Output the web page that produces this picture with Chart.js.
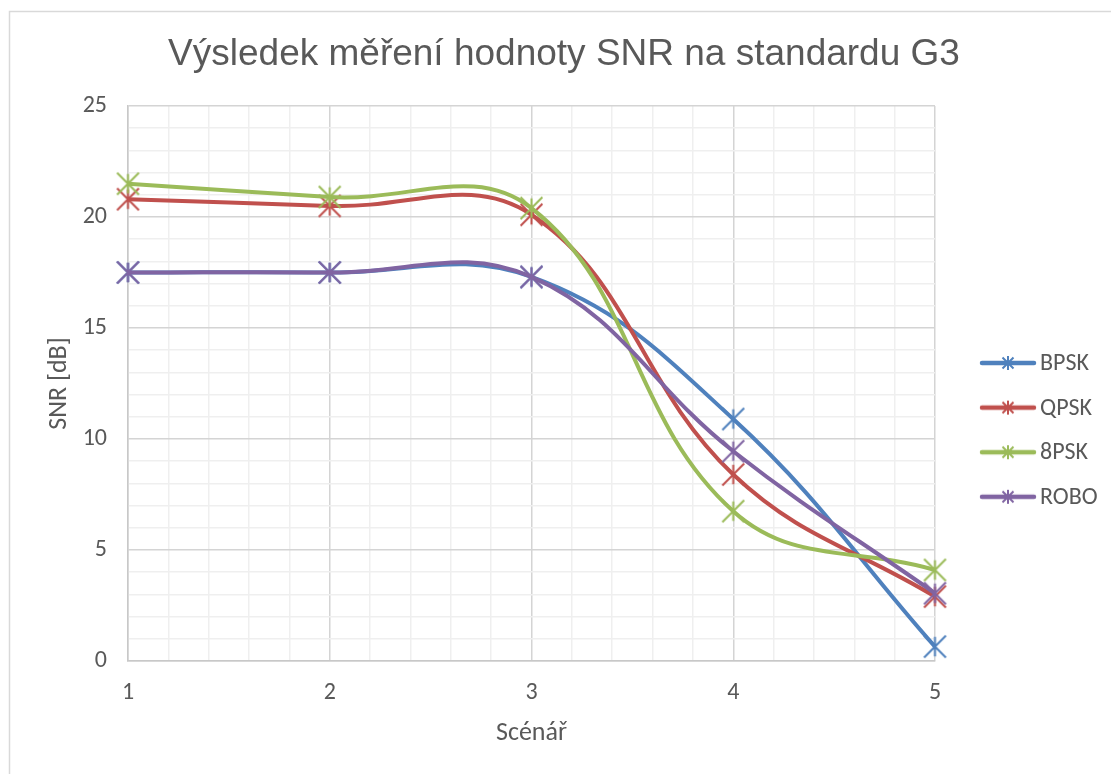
<!DOCTYPE html>
<html>
<head>
<meta charset="utf-8">
<script src="https://cdn.jsdelivr.net/npm/chart.js@4"></script>
<style>
  html, body { margin: 0; padding: 0; background: #ffffff; }
  #wrap { width: 1111px; height: 774px; position: relative; }
</style>
</head>
<body>
<div id="wrap"><canvas id="c" width="1111" height="774"></canvas></div>
<script>
// ---- data ----
const scenarios = [1, 2, 3, 4, 5];
const seriesNames = ['BPSK', 'QPSK', '8PSK', 'ROBO'];
const bpsk = [17.5, 17.5, 17.3, 10.9, 0.65];
const qpsk = [20.8, 20.5, 20.1, 8.4, 2.9];
const psk8 = [21.5, 20.9, 20.4, 6.75, 4.1];
const robo = [17.5, 17.5, 17.3, 9.45, 3.05];
const seriesColors = ['#4F81BD', '#C0504D', '#9BBB59', '#8064A2'];
const yMajorTicks = [0, 5, 10, 15, 20, 25];
const xMajorTicks = [1, 2, 3, 4, 5];

const titleText = 'Výsledek měření hodnoty SNR na standardu G3';
const xTitle = 'Scénář';
const yTitle = 'SNR [dB]';

const textColor = '#595959';
const calibriLike = 'Carlito, Lato, "Open Sans", sans-serif';

function starMarker(color, half, lw) {
  const s = Math.ceil(half * 2 + lw * 2);
  const cv = document.createElement('canvas');
  cv.width = s; cv.height = s;
  const g = cv.getContext('2d');
  const c = s / 2;
  g.strokeStyle = color; g.lineWidth = lw; g.lineCap = 'butt';
  const d = half * 0.95;
  g.beginPath();
  g.moveTo(c - d, c - d); g.lineTo(c + d, c + d);
  g.moveTo(c - d, c + d); g.lineTo(c + d, c - d);
  g.moveTo(c, c - half * 0.85); g.lineTo(c, c + half * 0.85);
  g.stroke();
  return cv;
}

function legendIcon(color) {
  const w = 58, h = 16;
  const cv = document.createElement('canvas');
  cv.width = w; cv.height = h;
  const g = cv.getContext('2d');
  g.strokeStyle = color; g.lineWidth = 4.5; g.lineCap = 'round';
  g.beginPath(); g.moveTo(3, h / 2); g.lineTo(w - 3, h / 2); g.stroke();
  g.lineWidth = 2; g.lineCap = 'butt';
  const c = w / 2, m = h / 2, d = 5.5;
  g.beginPath();
  g.moveTo(c - d, m - d); g.lineTo(c + d, m + d);
  g.moveTo(c - d, m + d); g.lineTo(c + d, m - d);
  g.moveTo(c, m - 7); g.lineTo(c, m + 7);
  g.stroke();
  return cv;
}

const seriesValues = [bpsk, qpsk, psk8, robo];
const datasets = seriesValues.map((vals, i) => ({
  label: seriesNames[i],
  data: scenarios.map((x, j) => ({ x: x, y: vals[j] })),
  borderColor: seriesColors[i],
  backgroundColor: seriesColors[i],
  borderWidth: 4,
  tension: 0.4,
  pointStyle: starMarker(seriesColors[i], 11.5, 2),
  pointRadius: 11,
  pointHoverRadius: 11,
  clip: false,
  order: seriesNames.length - i
}));

const isInt = v => Math.abs(v - Math.round(v)) < 1e-6;

const bgPlugin = {
  id: 'bg',
  beforeDraw(chart) {
    const ctx = chart.ctx;
    ctx.save();
    ctx.fillStyle = '#ffffff';
    ctx.fillRect(0, 0, chart.width, chart.height);
    ctx.strokeStyle = '#d9d9d9';
    ctx.lineWidth = 1.5;
    ctx.strokeRect(9.5, 11.5, chart.width + 20, chart.height + 20);
    ctx.restore();
  },
  afterDraw(chart) {
    const ctx = chart.ctx;
    ctx.save();
    ctx.font = '37px "Liberation Sans", Arial, sans-serif';
    ctx.fillStyle = textColor;
    ctx.textAlign = 'center';
    ctx.textBaseline = 'alphabetic';
    ctx.fillText(titleText, 564, 65);
    ctx.restore();
  }
};

const legendPlugin = {
  id: 'customLegend',
  afterDraw(chart) {
    const ctx = chart.ctx;
    ctx.save();
    ctx.font = '24px ' + calibriLike;
    ctx.fillStyle = textColor;
    ctx.textBaseline = 'middle';
    ctx.textAlign = 'left';
    chart.data.datasets.forEach((ds, i) => {
      const y = 363 + i * 44.6;
      const icon = legendIcon(ds.borderColor);
      ctx.drawImage(icon, 979, y - icon.height / 2);
      ctx.fillText(ds.label, 1040, y + 1);
    });
    ctx.restore();
  }
};

new Chart(document.getElementById('c'), {
  type: 'line',
  data: { datasets: datasets },
  plugins: [bgPlugin, legendPlugin],
  options: {
    responsive: false,
    animation: false,
    layout: { padding: { left: 0, right: 176, top: 106, bottom: 0 } },
    plugins: {
      legend: { display: false },
      tooltip: { enabled: false },
      title: { display: false }
    },
    scales: {
      x: {
        type: 'linear',
        min: 1, max: 5,
        afterFit(scale) { scale.height = 113; },
        ticks: {
          stepSize: 0.2,
          autoSkip: false,
          maxRotation: 0,
          padding: 18,
          color: textColor,
          font: { family: calibriLike, size: 24 },
          callback: v => (isInt(v) && xMajorTicks.includes(Math.round(v))) ? String(Math.round(v)) : ''
        },
        grid: {
          drawTicks: false,
          color: c => isInt(c.tick.value) ? '#d4d4d4' : '#efefef',
          lineWidth: 1.5
        },
        border: { color: '#c8c8c8', width: 1.5 },
        title: {
          display: true, text: xTitle, color: textColor,
          font: { family: calibriLike, size: 26, lineHeight: 1.2 },
          padding: { top: 0, bottom: 25 }
        }
      },
      y: {
        min: 0, max: 25,
        afterFit(scale) { scale.width = 128; },
        ticks: {
          stepSize: 1,
          autoSkip: false,
          padding: 21,
          color: textColor,
          font: { family: calibriLike, size: 24 },
          callback: v => yMajorTicks.includes(v) ? String(v) : ''
        },
        grid: {
          drawTicks: false,
          color: c => (c.tick.value % 5 === 0) ? '#d4d4d4' : '#efefef',
          lineWidth: 1.5
        },
        border: { color: '#c8c8c8', width: 1.5 },
        title: {
          display: true, text: yTitle, color: textColor,
          font: { family: calibriLike, size: 26, lineHeight: 1.2 },
          padding: { top: 44, bottom: 0 }
        }
      }
    }
  }
});
</script>
</body>
</html>
